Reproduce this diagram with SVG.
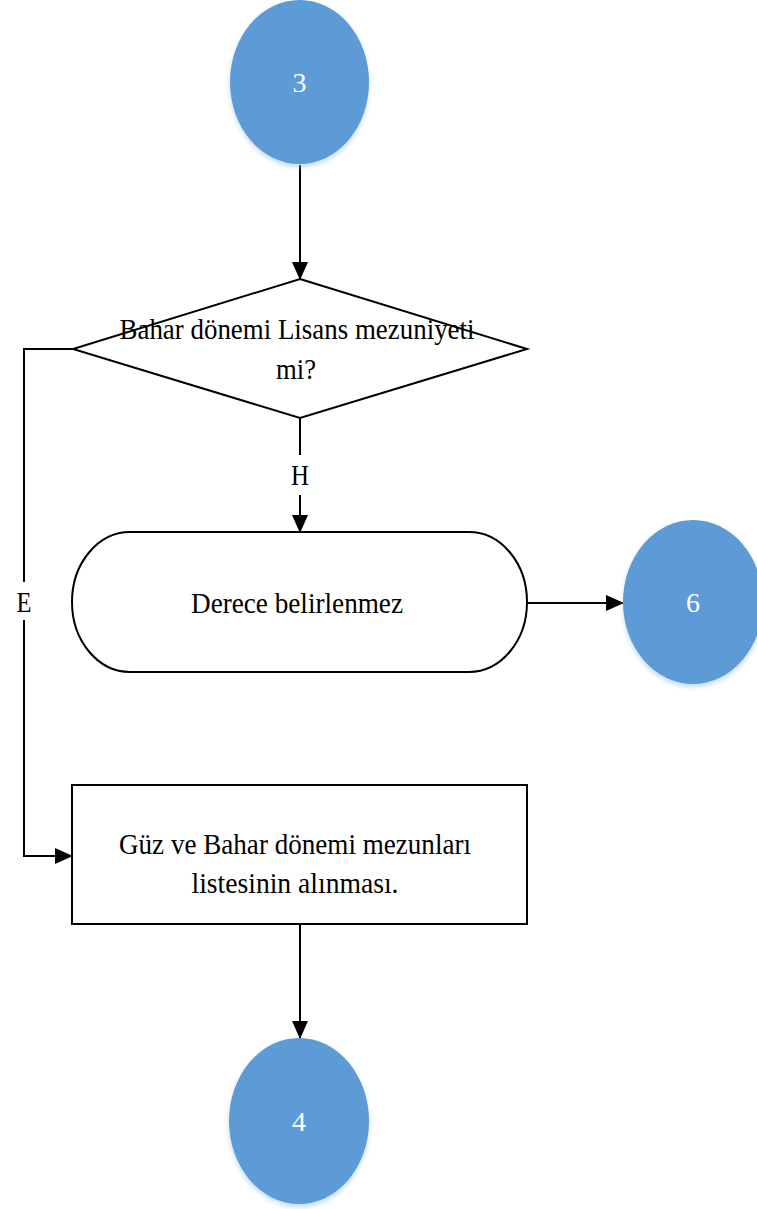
<svg xmlns="http://www.w3.org/2000/svg" width="757" height="1209" viewBox="0 0 757 1209">
<style>
.ln{fill:none;stroke:#000;stroke-width:2}
.sh{fill:#fff;stroke:#000;stroke-width:2}
.cir{fill:#5B9BD5;filter:url(#shadow)}
.t{font-family:"Liberation Serif","Times New Roman",serif;font-size:29px;fill:#000;text-anchor:middle}
.ct{font-family:"Liberation Serif","Times New Roman",serif;font-size:28px;fill:#fff;text-anchor:middle}
</style>
<defs>
<marker id="ahb" markerWidth="18" markerHeight="18" refX="17" refY="9" orient="auto" markerUnits="userSpaceOnUse" viewBox="0 0 18 18">
<path d="M0,1 L18,9 L0,17 Z" fill="#000"/>
</marker>
<filter id="shadow" x="-20%" y="-20%" width="140%" height="140%">
<feGaussianBlur in="SourceAlpha" stdDeviation="2.5"/>
<feOffset dx="0" dy="3" result="b"/>
<feFlood flood-color="#9dc3e6" flood-opacity="0.6"/>
<feComposite in2="b" operator="in"/>
<feMerge><feMergeNode/><feMergeNode in="SourceGraphic"/></feMerge>
</filter>
</defs>
<g id="connectors">
<line class="ln" x1="300" y1="165" x2="300" y2="279" marker-end="url(#ahb)"/>
<line class="ln" x1="300" y1="418" x2="300" y2="455"/>
<line class="ln" x1="300" y1="495" x2="300" y2="532" marker-end="url(#ahb)"/>
<text class="t" x="300" y="485" textLength="18" lengthAdjust="spacingAndGlyphs">H</text>
<polyline class="ln" points="73,349 24,349 24,582"/>
<polyline class="ln" points="24,620 24,856 72,856" marker-end="url(#ahb)"/>
<text class="t" x="24" y="612" textLength="15" lengthAdjust="spacingAndGlyphs">E</text>
<line class="ln" x1="527" y1="603" x2="623" y2="603" stroke-width="3" marker-end="url(#ahb)"/>
<line class="ln" x1="300" y1="924" x2="300" y2="1038" marker-end="url(#ahb)"/>
</g>
<g id="node3">
<ellipse class="cir" cx="299.5" cy="82" rx="69.5" ry="82"/>
<text class="ct" x="299.5" y="92">3</text>
</g>
<g id="decision">
<polygon class="sh" points="300,279 527,349 300,418 73,349"/>
<text class="t" x="297" y="339" textLength="355" lengthAdjust="spacingAndGlyphs">Bahar dönemi Lisans mezuniyeti</text>
<text class="t" x="296" y="379" textLength="40" lengthAdjust="spacingAndGlyphs">mi?</text>
</g>
<g id="terminal">
<rect class="sh" x="72" y="532" width="455" height="140" rx="58" ry="70"/>
<text class="t" x="297" y="613" textLength="212" lengthAdjust="spacingAndGlyphs">Derece belirlenmez</text>
</g>
<g id="node6">
<ellipse class="cir" cx="693" cy="602" rx="70" ry="82"/>
<text class="ct" x="693" y="612">6</text>
</g>
<g id="process">
<rect class="sh" x="72" y="785" width="455" height="139"/>
<text class="t" x="295" y="854" textLength="352" lengthAdjust="spacingAndGlyphs">Güz ve Bahar dönemi mezunları</text>
<text class="t" x="295" y="893" textLength="207" lengthAdjust="spacingAndGlyphs">listesinin alınması.</text>
</g>
<g id="node4">
<ellipse class="cir" cx="299" cy="1121" rx="70" ry="83"/>
<text class="ct" x="299" y="1131">4</text>
</g>
</svg>
